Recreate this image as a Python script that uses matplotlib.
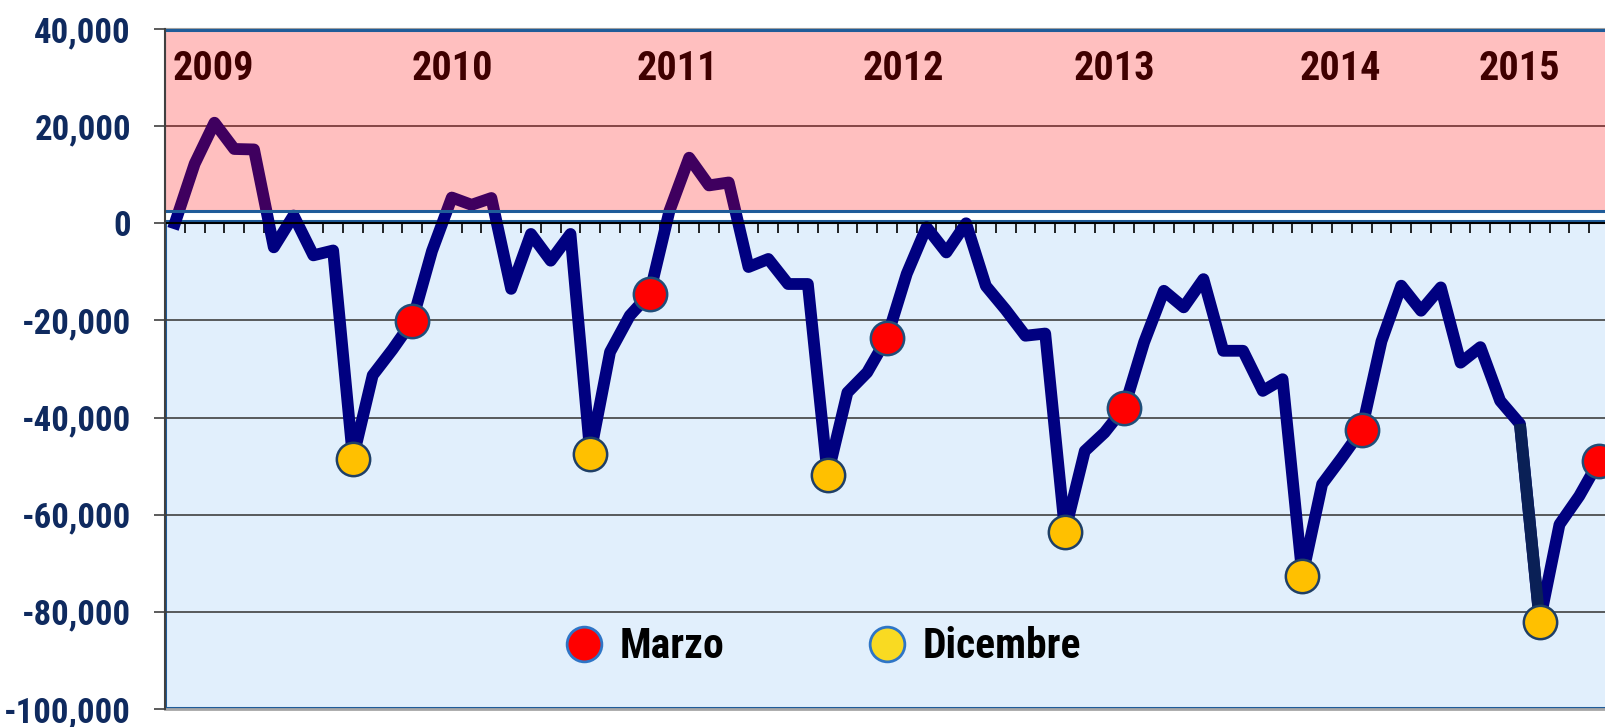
import numpy as np
import pandas as pd
import matplotlib
matplotlib.use('Agg')
import matplotlib.pyplot as plt
from matplotlib.patches import Rectangle
from matplotlib.lines import Line2D
from matplotlib.ticker import FuncFormatter
from matplotlib import font_manager

# monthly series, March 2009 .. March 2015
months = pd.period_range('2009-03', periods=73, freq='M')
saldo = [
    0, 12250, 20700, 15300, 15200, -4950, 1600, -6600, -5600, -48450,                          # 2009
    -31300, -26000, -20200, -5700, 5300, 3800, 5200, -13500, -2200, -7700, -2200, -47550,       # 2010
    -26500, -19000, -14550, 2500, 13500, 7800, 8400, -9000, -7350, -12500, -12500, -51900,      # 2011
    -34850, -30700, -23600, -10400, -800, -6000, 0, -12900, -17800, -23150, -22700, -63500,     # 2012
    -46900, -43100, -37950, -24500, -13900, -17300, -11500, -26250, -26250, -34500, -32100, -72650,  # 2013
    -53700, -48250, -42550, -24300, -12850, -18000, -13200, -28700, -25500, -36550, -41300, -82050,  # 2014
    -62000, -56150, -48950,                                                                     # 2015
]
years = ['2009', '2010', '2011', '2012', '2013', '2014', '2015']
legend_labels = ['Marzo', 'Dicembre']

# where the year labels sit (category units), placed by hand in the original
YEAR_POS = [1.95, 14.05, 25.4, 36.85, 47.5, 58.9, 67.95]

# the original uses a narrow bold face; take one if installed, else shrink
names = {f.name for f in font_manager.fontManager.ttflist}
FONT, SCALE = 'Liberation Sans', 0.86
for cand in ['Liberation Sans Narrow', 'Arial Narrow', 'Roboto Condensed',
             'Open Sans Condensed', 'Noto Sans Condensed']:
    if cand in names:
        FONT, SCALE = cand, 1.0
        break
plt.rcParams['font.family'] = [FONT, 'DejaVu Sans']
plt.rcParams['font.weight'] = 'bold'

NAVY = '#000080'
BORDER = '#1F5C99'

x = np.arange(len(saldo))
saldo = np.array(saldo)
is_mar = (months.month == 3) & (months.year > 2009)
is_dec = months.month == 12

fig = plt.figure(figsize=(16.05, 7.27), dpi=100)
ax = fig.add_axes([165 / 1605, 18 / 727, 81 * 19.78 / 1605, 680 / 727])
ax.set_xlim(-0.5, 80.5)
ax.set_ylim(-100000, 40000)

# background bands
ax.add_patch(Rectangle((-0.5, -99800), 100, 100200, facecolor='#E1EFFC',
                       edgecolor=BORDER, lw=2.2, zorder=0.5))
for y in range(-80000, 40001, 20000):
    if y != 0:
        ax.axhline(y, color='#404040', lw=1.2, zorder=1)

for pos, yr in zip(YEAR_POS, years):
    ax.text(pos, 31800, yr, ha='center', va='center', fontsize=29 * SCALE,
            color='black', fontweight='bold', zorder=1.5)

ax.plot(x, saldo, color=NAVY, lw=8.5, solid_joinstyle='round', zorder=2)
ax.plot(x[68:70], saldo[68:70], color='#0A2056', lw=8.5, solid_capstyle='butt', zorder=2.1)

ax.plot(x[is_mar], saldo[is_mar], 'o', ms=24, mfc='#FF0000', mec='#1F4E79', mew=1.8, zorder=3)
ax.plot(x[is_dec], saldo[is_dec], 'o', ms=24, mfc='#FFC000', mec='#1F3F66', mew=1.8, zorder=3)

# pink band is a translucent red laid over the line
ax.add_patch(Rectangle((-0.55, 2500), 100, 37200, facecolor='#FF0000', alpha=0.25,
                       edgecolor='none', zorder=4))
ax.add_patch(Rectangle((-0.55, 2500), 100, 37200, facecolor='none',
                       edgecolor=BORDER, lw=2.2, zorder=5))
ax.axhline(-100000, color='#A6A6A6', lw=2, clip_on=False, zorder=6)

# axes
ax.spines['right'].set_visible(False)
ax.spines['top'].set_color('#A0A0A0')
ax.spines['top'].set_linewidth(1.5)
ax.spines['left'].set_color('#404040')
ax.spines['left'].set_linewidth(1.5)
ax.spines['left'].set_zorder(6)
ax.spines['bottom'].set_position(('data', 0))
ax.spines['bottom'].set_color('black')
ax.spines['bottom'].set_linewidth(1.5)
ax.spines['bottom'].set_zorder(2.5)

ax.set_xticks(np.arange(-0.5, 81, 1))
ax.tick_params(axis='x', direction='out', length=7.5, width=1.2, color='black',
               labelbottom=False)
ax.set_yticks(np.arange(-100000, 40001, 20000))
ax.yaxis.set_major_formatter(FuncFormatter(lambda v, _: f'{v:,.0f}'))
ax.tick_params(axis='y', direction='out', length=8, width=1.2, color='#404040',
               pad=16.5, labelsize=25 * SCALE, labelcolor='#0F2A5F')

handles = [
    Line2D([], [], ls='none', marker='o', ms=25, mfc='#FF0000', mec='#2E75C6', mew=2),
    Line2D([], [], ls='none', marker='o', ms=25, mfc='#F9DA22', mec='#2E75C6', mew=2),
]
fig.legend(handles, legend_labels, loc='center left', bbox_to_anchor=(563 / 1605, 80 / 727),
           ncol=2, frameon=False, fontsize=30 * SCALE, handlelength=1.0 / SCALE,
           handletextpad=0.36 / SCALE, columnspacing=3.4 / SCALE, borderpad=0, borderaxespad=0)

fig.savefig('out.png', dpi=100)
